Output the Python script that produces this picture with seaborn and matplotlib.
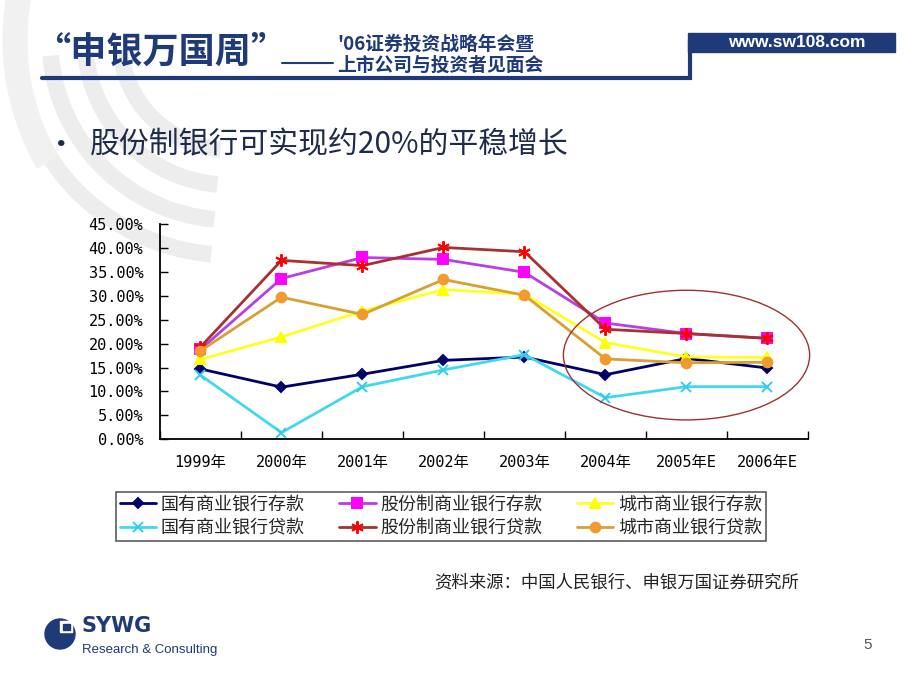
import numpy as np
import pandas as pd
import seaborn as sns
import matplotlib.pyplot as plt
from matplotlib.patches import Ellipse, Rectangle, Arc, Circle

# data (growth rate, %)
years = ['1999年', '2000年', '2001年', '2002年', '2003年', '2004年', '2005年E', '2006年E']
guoyou_ck = [14.7, 10.9, 13.6, 16.5, 17.2, 13.5, 16.9, 14.9]
gufen_ck = [18.8, 33.6, 38.0, 37.6, 34.9, 24.3, 22.1, 21.1]
chengshi_ck = [16.7, 21.4, 26.8, 31.3, 30.3, 20.2, 17.2, 17.1]
guoyou_dk = [13.4, 1.4, 11.0, 14.5, 17.7, 8.7, 11.0, 11.0]
gufen_dk = [19.3, 37.4, 36.3, 40.1, 39.2, 23.0, 22.1, 21.1]
chengshi_dk = [18.5, 29.7, 26.1, 33.4, 30.1, 16.8, 16.0, 16.1]

series_names = ['国有商业银行存款', '股份制商业银行存款', '城市商业银行存款',
                '国有商业银行贷款', '股份制商业银行贷款', '城市商业银行贷款']
yticks = [0, 5, 10, 15, 20, 25, 30, 35, 40, 45]

sns.set_theme(style='white')
plt.rcParams['font.family'] = ['Noto Sans CJK SC', 'DejaVu Sans']

NAVY = '#1e3a78'
W, H = 920, 689
fig = plt.figure(figsize=(W / 100, H / 100), dpi=100)
fig.patch.set_facecolor('white')

# background layer in pixel coordinates (header, watermark, footer)
bg = fig.add_axes([0, 0, 1, 1], zorder=0)
bg.set_xlim(0, W)
bg.set_ylim(H, 0)
bg.axis('off')

# faint globe watermark at the upper left
for r in [110, 145, 180, 215]:
    bg.add_patch(Arc((230, 40), 2 * r, 2 * r, theta1=95, theta2=175,
                     color='#ededed', lw=12, zorder=0))
bg.add_patch(Arc((260, 40), 2 * 245, 2 * 245, theta1=150, theta2=200,
                 color='#f1f1f1', lw=18, zorder=0))

# header
bg.text(34, 52, '“申银万国周”', fontsize=26, fontweight='black', color=NAVY,
        va='center', ha='left')
bg.plot([282, 333], [63, 63], color=NAVY, lw=1.5)
bg.text(337, 44, "'06证券投资战略年会暨", fontsize=13.5, fontweight='bold', color=NAVY,
        va='center', ha='left')
bg.text(337, 65, '上市公司与投资者见面会', fontsize=13.5, fontweight='bold', color=NAVY,
        va='center', ha='left')
bg.plot([42, 690, 690], [78, 78, 40], color=NAVY, lw=3, solid_joinstyle='miter')
bg.add_patch(Rectangle((688, 33), 207, 19, color=NAVY, zorder=2))
bg.text(797, 42.5, 'www.sw108.com', fontsize=12.5, fontweight='bold', color='white',
        family='Liberation Sans', va='center', ha='center', zorder=3)

# slide title
bg.text(61, 145, '•', fontsize=22, color='#1f2b4a', va='center', ha='center')
bg.text(90, 145, '股份制银行可实现约20%的平稳增长', fontsize=21.5, color='#1f2b4a',
        va='center', ha='left')

# source note
bg.text(799, 582, '资料来源：中国人民银行、申银万国证券研究所', fontsize=12.5,
        color='#222222', va='center', ha='right')

# footer logo and page number
bg.add_patch(Circle((60, 634), 15, color=NAVY))
bg.add_patch(Rectangle((60, 621), 12, 11, color='white'))
bg.add_patch(Rectangle((63, 624), 7, 6, color=NAVY))
bg.text(82, 626, 'SYWG', fontsize=15, fontweight='bold', color=NAVY,
        family='Liberation Sans Narrow', va='center', ha='left')
bg.text(82, 650, 'Research & Consulting', fontsize=9.5, color=NAVY,
        family='Liberation Sans', va='center', ha='left')
bg.text(868, 645, '5', fontsize=11, color='#555555', family='Liberation Sans',
        va='center', ha='center')

# chart
ax = fig.add_axes([160 / W, 1 - 439.3 / H, 648 / W, (439.3 - 224) / H], zorder=1)
ax.set_facecolor('none')
pos = np.arange(len(years))

styles = [
    (guoyou_ck, dict(color='#000066', marker='D', markersize=5.5,
                     markerfacecolor='#000066', markeredgecolor='#000066')),
    (gufen_ck, dict(color='#b83fe0', marker='s', markersize=7,
                    markerfacecolor='#ff00ff', markeredgecolor='#ff00ff')),
    (chengshi_ck, dict(color='#ffff22', marker='^', markersize=7,
                       markerfacecolor='#ffff00', markeredgecolor='#ffff00')),
    (guoyou_dk, dict(color='#40d8f0', marker='x', markersize=7,
                     markerfacecolor='#33ccee', markeredgecolor='#33ccee')),
    (gufen_dk, dict(color='#a83030', marker=(6, 2, 0), markersize=9,
                    markerfacecolor='#ff0000', markeredgecolor='#ff0000')),
    (chengshi_dk, dict(color='#d8a030', marker='o', markersize=7,
                       markerfacecolor='#f09a30', markeredgecolor='#f09a30')),
]
for name, (vals, kw) in zip(series_names, styles):
    df = pd.DataFrame({'pos': pos, 'val': vals})
    sns.lineplot(data=df, x='pos', y='val', ax=ax, label=name, linewidth=2,
                 markeredgewidth=1.4, **kw)

# highlight ellipse round the forecast years
ax.add_patch(Ellipse((6.0, 17.6), 3.04, 27.1, facecolor='none',
                     edgecolor='#993333', lw=1, zorder=5, clip_on=False))

ax.set_xlim(-0.5, len(years) - 0.5)
ax.set_ylim(0, 45)
ax.set_xticks(pos)
ax.set_xticklabels(years)
ax.set_xticks(np.arange(-0.5, len(years), 1.0), minor=True)
ax.set_yticks(yticks)
ax.set_yticklabels([f'{v:.2f}%' for v in yticks])
ax.tick_params(axis='x', which='major', length=0, pad=11)
ax.tick_params(axis='x', which='minor', direction='in', length=6, width=1,
               color='black', bottom=True)
ax.tick_params(axis='y', direction='in', length=6, width=1, color='black', left=True,
               pad=12)
for lab in ax.get_xticklabels() + ax.get_yticklabels():
    lab.set_family(['DejaVu Sans Mono', 'Noto Sans CJK SC'])
    lab.set_fontsize(11)
    lab.set_color('black')
for s in ['top', 'right']:
    ax.spines[s].set_visible(False)
for s in ['left', 'bottom']:
    ax.spines[s].set_color('black')
    ax.spines[s].set_linewidth(1.3)
ax.set_xlabel('')
ax.set_ylabel('')
ax.grid(False)

# legend: two rows, three columns
handles, labels = ax.get_legend_handles_labels()
ax.get_legend().remove()
order = [0, 3, 1, 4, 2, 5]
leg = fig.legend([handles[i] for i in order], [labels[i] for i in order],
                 ncol=3, loc='upper left', bbox_to_anchor=(116 / W, 1 - 492 / H),
                 fontsize=13, frameon=True, fancybox=False, edgecolor='#333333',
                 handlelength=2.0, handletextpad=0.25, columnspacing=1.95,
                 borderpad=0.2, labelspacing=0.32, borderaxespad=0)
leg.get_frame().set_linewidth(1.2)

fig.savefig('out.png', dpi=100, facecolor='white')
